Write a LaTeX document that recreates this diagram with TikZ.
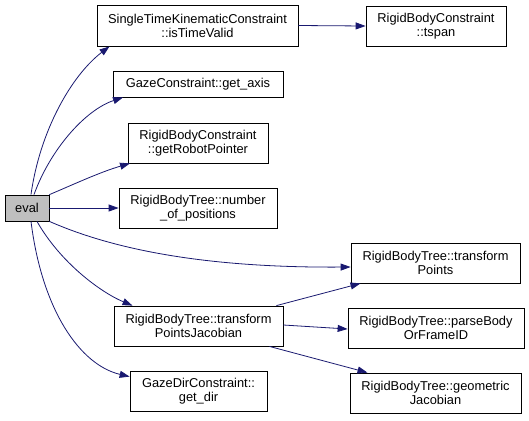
\documentclass[tikz,border=0pt]{standalone}
\usepackage{fontspec}
\setmainfont{Liberation Sans}
\usetikzlibrary{arrows.meta}
\definecolor{edgecol}{HTML}{191970}
\definecolor{evalfill}{HTML}{BFBFBF}
\tikzset{
  fn/.style={draw=black, line width=0.8pt, fill=white, rectangle, inner sep=0pt, align=center,
    font=\fontsize{12.9}{14}\selectfont},
  edge/.style={draw=edgecol, line width=0.8pt, -{Triangle[length=10pt,width=7pt]}},
}
\begin{document}
\begin{tikzpicture}[x=1bp,y=-1bp]
\useasboundingbox[fill=white] (0,0) rectangle (529,420);
% nodes (centre, width, height in px)
\node[fn, fill=evalfill, minimum width=44bp, minimum height=26bp] (eval) at (27,208) {eval};
\node[fn, minimum width=201bp, minimum height=41bp] (stk) at (197.5,25.5) {SingleTimeKinematicConstraint\\::isTimeValid};
\node[fn, minimum width=140bp, minimum height=40bp] (tspan) at (436,26) {RigidBodyConstraint\\::tspan};
\node[fn, minimum width=170bp, minimum height=26bp] (axis) at (198,84) {GazeConstraint::get\_axis};
\node[fn, minimum width=140bp, minimum height=40bp] (robot) at (198,143) {RigidBodyConstraint\\::getRobotPointer};
\node[fn, minimum width=158bp, minimum height=40bp] (npos) at (198,208) {RigidBodyTree::number\\\_of\_positions};
\node[fn, minimum width=169bp, minimum height=40bp] (tp) at (435.5,263) {RigidBodyTree::transform\\Points};
\node[fn, minimum width=169bp, minimum height=40bp] (tpj) at (198.5,326) {RigidBodyTree::transform\\PointsJacobian};
\node[fn, minimum width=176bp, minimum height=40bp] (parse) at (436,328) {RigidBodyTree::parseBody\\OrFrameID};
\node[fn, minimum width=171bp, minimum height=40bp] (geo) at (435.5,393) {RigidBodyTree::geometric\\Jacobian};
\node[fn, minimum width=137bp, minimum height=40bp] (dir) at (198.5,391) {GazeDirConstraint::\\get\_dir};
% edges
\draw[edge] ([xshift=4bp]eval.north) .. controls (40,130) and (72,75) .. ([xshift=-88bp]stk.south);
\draw[edge] ([xshift=7bp]eval.north) .. controls (50,150) and (85,110) .. ([xshift=-75bp]axis.south);
\draw[edge] (eval.north east) .. controls (70,186) and (100,172) .. ([xshift=-68bp]robot.south);
\draw[edge] (eval.east) -- (npos.west);
\draw[edge] (eval.south east) .. controls (110,248) and (200,268) .. ([yshift=-4bp]tp.west);
\draw[edge] ([xshift=10bp]eval.south) .. controls (60,262) and (100,292) .. ([xshift=-66bp]tpj.north);
\draw[edge] ([xshift=4bp]eval.south) .. controls (42,310) and (80,365) .. ([yshift=-6bp]dir.north west);
\draw[edge] (stk.east) -- (tspan.west);
\draw[edge] ([xshift=-7bp]tpj.north east) -- ([xshift=-75bp]tp.south);
\draw[edge] ([yshift=1bp]tpj.east) -- ([yshift=-1bp]parse.west);
\draw[edge] ([xshift=-14bp]tpj.south east) -- ([xshift=-68bp]geo.north);
\end{tikzpicture}
\end{document}
